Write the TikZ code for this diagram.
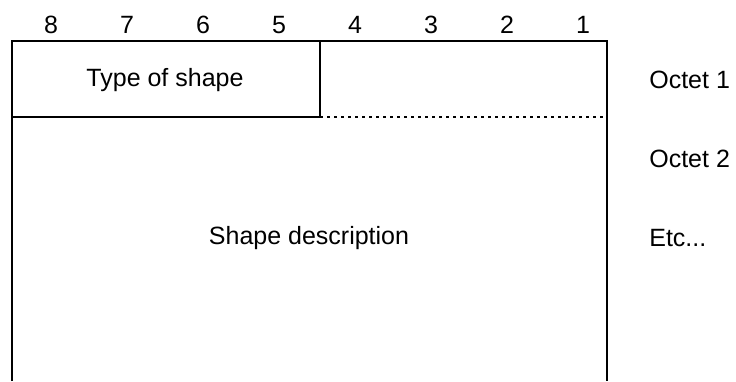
\documentclass[tikz,border=0pt]{standalone}
\usepackage{fontspec}
\setmainfont{Liberation Sans}
\begin{document}
\begin{tikzpicture}[x=1pt,y=-1pt,line width=2pt,font=\fontsize{25}{30}\selectfont]
		\useasboundingbox (0,0) rectangle (736,381);
		\coordinate (bl) at (12,381);
		\coordinate (tl) at (12,41);
		\coordinate (tr) at (607,41);
		\coordinate (br) at (607,381);
		\coordinate (tm) at (320,41);
		\coordinate (ml) at (12,117);
		\coordinate (mm) at (320,117);
		\coordinate (mr) at (607,117);
		\draw (bl) -- (tl) -- (tr) -- (br);
		\draw (ml) -- (mm) -- (tm);
		\draw[line width=1.5pt,dash pattern=on 3pt off 4pt] (mm) -- (mr);
		\foreach \b [count=\i from 0] in {8,7,6,5,4,3,2,1}
			\node (bit\b) at (51+76*\i,25) {\b};
		\node (type) at (165,80) {Type of shape};
		\node (desc) at (309,238) {Shape description};
		\node[anchor=west] (oct1) at (645,80) {Octet 1};
		\node[anchor=west] (oct2) at (645,159) {Octet 2};
		\node[anchor=west] (etc) at (645,238) {Etc...};
	\end{tikzpicture}
\end{document}
